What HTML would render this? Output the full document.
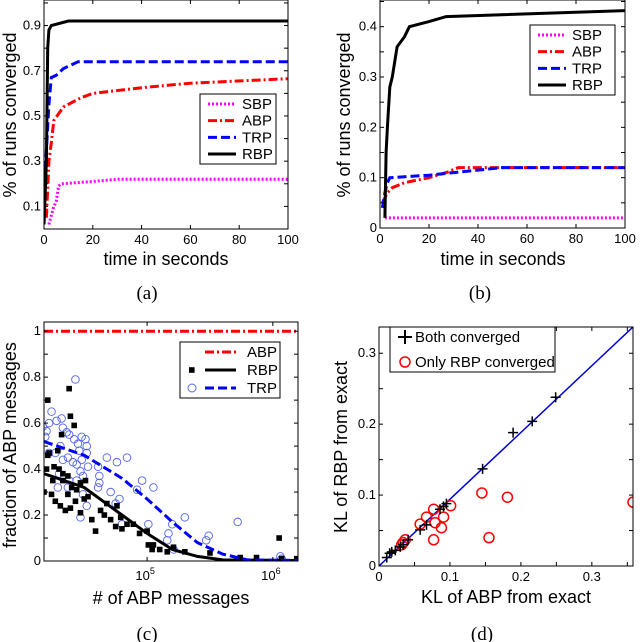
<!DOCTYPE html>
<html><head><meta charset="utf-8"><style>
html,body{margin:0;padding:0;background:#fff}
svg{display:block}
text{font-family:"Liberation Sans",sans-serif;fill:#000}
.cap{font-family:"Liberation Serif",serif;font-size:19px}
</style></head><body>
<svg id="fig" width="640" height="642" viewBox="0 0 640 642" xmlns="http://www.w3.org/2000/svg"></svg>
<script>
// ---------- data ----------
const aRBP=[[0,0.02],[1,0.3],[1.5,0.8],[2,0.88],[3,0.9],[10,0.92],[100,0.92]];
const aTRP=[[0,0.03],[1,0.35],[2,0.55],[3,0.67],[5,0.68],[8,0.71],[14,0.74],[100,0.74]];
const aABP=[[1,0.05],[2,0.3],[3,0.38],[4,0.48],[6,0.51],[8,0.54],[15,0.58],[20,0.6],[40,0.625],[60,0.645],[100,0.665]];
const aSBP=[[2,0.02],[3,0.06],[4,0.1],[5,0.12],[6,0.19],[7,0.2],[20,0.21],[30,0.22],[100,0.22]];
const bRBP=[[2,0.02],[2.5,0.15],[3,0.2],[4,0.28],[5,0.3],[7,0.36],[10,0.38],[12,0.4],[20,0.41],[27,0.42],[100,0.432]];
const bABP=[[1,0.05],[2,0.06],[3,0.07],[5,0.08],[10,0.09],[20,0.1],[27,0.11],[32,0.12],[100,0.12]];
const bTRP=[[1,0.04],[2,0.07],[3,0.09],[4,0.1],[20,0.105],[30,0.11],[50,0.12],[100,0.12]];
const bSBP=[[2,0.02],[100,0.02]];
const cABP=[[4.18,1],[6.2,1]];
const cRBPfit=[[4.18,0.38],[4.5,0.32],[4.8,0.2],[5,0.12],[5.2,0.05],[5.4,0.02],[5.6,0.005],[6.2,0.002]];
const cTRPfit=[[4.18,0.52],[4.5,0.46],[4.8,0.36],[5,0.27],[5.2,0.17],[5.4,0.08],[5.6,0.03],[5.8,0.005],[6.2,0.002]];
const cRBPpts=[[4.18,.30],[4.21,.46],[4.22,.47],[4.21,.70],[4.38,.75],[4.39,.63],[4.42,.59],[4.32,.55],[4.29,.48],[4.24,.29],[4.26,.41],[4.30,.40],[4.33,.38],[4.37,.37],[4.27,.26],[4.31,.24],[4.35,.22],[4.39,.23],[4.43,.26],[4.44,.31],[4.47,.34],[4.51,.35],[4.50,.27],[4.53,.28],[4.47,.21],[4.56,.18],[4.59,.13],[4.63,.22],[4.66,.20],[4.68,.25],[4.71,.18],[4.75,.15],[4.76,.24],[4.79,.19],[4.80,.14],[4.84,.16],[4.89,.16],[4.94,.12],[5.0,.13],[5.01,.07],[5.04,.05],[5.05,.07],[5.10,.05],[5.16,.04],[5.21,.06],[5.30,.04],[5.50,.035],[5.74,.015],[5.87,.015],[6.05,.10],[6.07,.01],[6.19,.01],[4.20,.40],[4.25,.35],[4.33,.35],[4.37,.29],[4.40,.32]];
const cTRPpts=[[4.17,.585],[4.19,.54],[4.20,.565],[4.22,.60],[4.24,.65],[4.28,.61],[4.32,.62],[4.33,.58],[4.36,.56],[4.38,.55],[4.43,.79],[4.42,.53],[4.45,.51],[4.48,.54],[4.51,.53],[4.52,.50],[4.46,.48],[4.31,.50],[4.27,.47],[4.22,.47],[4.33,.44],[4.37,.45],[4.41,.43],[4.44,.42],[4.48,.44],[4.52,.47],[4.53,.41],[4.47,.39],[4.49,.37],[4.44,.35],[4.37,.32],[4.38,.35],[4.30,.38],[4.29,.32],[4.47,.19],[4.49,.29],[4.52,.24],[4.61,.41],[4.62,.37],[4.62,.34],[4.61,.32],[4.68,.45],[4.76,.43],[4.84,.45],[4.71,.30],[4.75,.25],[4.78,.27],[4.80,.16],[4.92,.31],[4.96,.35],[5.01,.16],[5.05,.32],[5.16,.09],[5.17,.12],[5.20,.16],[5.21,.05],[5.30,.19],[5.47,.09],[5.49,.11],[5.72,.17],[6.06,.02],[6.07,.01]];
const dBoth=[[.011,.012],[.015,.018],[.018,.020],[.023,.022],[.030,.027],[.034,.030],[.041,.037],[.058,.051],[.067,.058],[.086,.080],[.091,.084],[.095,.088],[.146,.137],[.189,.188],[.216,.204],[.249,.238]];
const dOnly=[[.034,.033],[.032,.030],[.037,.037],[.058,.059],[.067,.069],[.077,.080],[.079,.061],[.077,.037],[.088,.054],[.091,.069],[.101,.085],[.145,.103],[.155,.040],[.181,.097],[.358,.090]];

// ---------- helpers ----------
const NS="http://www.w3.org/2000/svg";
const fig=document.getElementById('fig');
function mk(tag,attrs,parent){const e=document.createElementNS(NS,tag);for(const k in attrs)e.setAttribute(k,attrs[k]);(parent||fig).appendChild(e);return e;}
function axis(L,R,T,B,x0,x1,y0,y1){return {L,R,T,B,sx:v=>L+(v-x0)/(x1-x0)*(R-L),sy:v=>B-(v-y0)/(y1-y0)*(B-T)};}
function frame(ax,xt,xl,yt,yl,g){
  mk('rect',{x:ax.L,y:ax.T,width:ax.R-ax.L,height:ax.B-ax.T,fill:'none',stroke:'#000','stroke-width':1},g);
  xt.forEach(v=>{const x=ax.sx(v);mk('line',{x1:x,x2:x,y1:ax.B,y2:ax.B-4,stroke:'#000'},g);mk('line',{x1:x,x2:x,y1:ax.T,y2:ax.T+4,stroke:'#000'},g);});
  yt.forEach(v=>{const y=ax.sy(v);mk('line',{x1:ax.L,x2:ax.L+4,y1:y,y2:y,stroke:'#000'},g);mk('line',{x1:ax.R,x2:ax.R-4,y1:y,y2:y,stroke:'#000'},g);});
  xl.forEach(([v,s])=>{const t=mk('text',{x:ax.sx(v),y:ax.B+15,'text-anchor':'middle','font-size':13},g);t.textContent=s;});
  yl.forEach(([v,s])=>{const t=mk('text',{x:ax.L-3,y:ax.sy(v)+4,'text-anchor':'end','font-size':13},g);t.textContent=s;});
}
function path(ax,data,style,g){return mk('path',Object.assign({d:data.map((p,i)=>(i?'L':'M')+ax.sx(p[0]).toFixed(1)+','+ax.sy(p[1]).toFixed(1)).join(''),fill:'none'},style),g);}
const ST={SBP:{stroke:'#ff00ff','stroke-width':3,'stroke-dasharray':'2 2'},ABP:{stroke:'#ff0000','stroke-width':3,'stroke-dasharray':'9 3 2 3'},TRP:{stroke:'#0000ff','stroke-width':3,'stroke-dasharray':'9 4'},RBP:{stroke:'#000','stroke-width':3}};
function title(x,y,s,rot,g){const t=mk('text',{x,y,'text-anchor':'middle','font-size':18,transform:rot?`rotate(-90 ${x} ${y})`:''},g);t.textContent=s;return t;}
function cap(x,y,s){const t=mk('text',{x,y,'text-anchor':'middle',class:'cap'});t.textContent=s;}
function legend(g,x,y,w,h,items){
  mk('rect',{x,y,width:w,height:h,fill:'#fff',stroke:'#000'},g);
  items.forEach((it,i)=>{const yy=y+10+i*(h-20)/(items.length-1);
    const lg=mk('g',{},g);
    
    
    if(it.style)mk('line',Object.assign({x1:x+8,x2:x+36,y1:yy,y2:yy},it.style),lg);
    if(it.marker)it.marker(lg,yy);
    const t=mk('text',{x:x+it.tx,y:yy+5,'font-size':15},lg);t.textContent=it.label;});
}
const clipN=(id,ax)=>{const c=mk('clipPath',{id});mk('rect',{x:ax.L,y:ax.T,width:ax.R-ax.L,height:ax.B-ax.T},c);};

// ---------- panel a ----------
{const g=mk('g',{});
const ax=axis(44,288,0,229,0,100,0,1.013);
clipN('ca',ax);
const s=mk('g',{'clip-path':'url(#ca)'},g);
[['SBP',aSBP],['ABP',aABP],['TRP',aTRP],['RBP',aRBP]].forEach(([n,d])=>{const p=path(ax,d,ST[n],s);});
frame(ax,[0,20,40,60,80,100],[[0,'0'],[20,'20'],[40,'40'],[60,'60'],[80,'80'],[100,'100']],[0.1,0.2,0.3,0.4,0.5,0.6,0.7,0.8,0.9,1],[[0.1,'0.1'],[0.3,'0.3'],[0.5,'0.5'],[0.7,'0.7'],[0.9,'0.9']],g);
legend(g,200,94,76,70,['SBP','ABP','TRP','RBP'].map(n=>({name:n,label:n,style:ST[n],tx:42})));
title(166,265,'time in seconds',false,g);title(16,115,'% of runs converged',true,g);}
cap(147,299,'(a)');

// ---------- panel b ----------
{const g=mk('g',{});
const ax=axis(380,625,0,228,0,100,0,0.453);
clipN('cb',ax);
const s=mk('g',{'clip-path':'url(#cb)'},g);
[['SBP',bSBP],['ABP',bABP],['TRP',bTRP],['RBP',bRBP]].forEach(([n,d])=>{const p=path(ax,d,ST[n],s);});
frame(ax,[0,20,40,60,80,100],[[0,'0'],[20,'20'],[40,'40'],[60,'60'],[80,'80'],[100,'100']],[0.05,0.1,0.15,0.2,0.25,0.3,0.35,0.4,0.45],[[0,'0'],[0.1,'0.1'],[0.2,'0.2'],[0.3,'0.3'],[0.4,'0.4']],g);
legend(g,530,25,85,70,['SBP','ABP','TRP','RBP'].map(n=>({name:n,label:n,style:ST[n],tx:42})));
title(503,265,'time in seconds',false,g);title(350,115,'% of runs converged',true,g);}
cap(480,299,'(b)');

// ---------- panel c ----------
{const g=mk('g',{});
const ax=axis(44,298,322,561,4.18,6.2,0,1.04);
clipN('cc',ax);
const s=mk('g',{'clip-path':'url(#cc)'},g);
cTRPpts.forEach(p=>{const c=mk('circle',{cx:ax.sx(p[0]),cy:ax.sy(p[1]),r:3.8,fill:'none',stroke:'#5566ee','stroke-width':0.9},s);});
cRBPpts.forEach(p=>{const c=mk('rect',{x:ax.sx(p[0])-2.8,y:ax.sy(p[1])-2.8,width:5.6,height:5.6,fill:'#000'},s);});
let p=path(ax,cABP,ST.ABP,s);
p=path(ax,cRBPfit,ST.RBP,s);
p=path(ax,cTRPfit,ST.TRP,s);
frame(ax,[5,6],[],[0,0.1,0.2,0.3,0.4,0.5,0.6,0.7,0.8,0.9,1],[[0,'0'],[0.2,'0.2'],[0.4,'0.4'],[0.6,'0.6'],[0.8,'0.8'],[1,'1']],g);
[[5,'5'],[6,'6']].forEach(([v,e])=>{const t=mk('text',{x:ax.sx(v)-2,y:ax.B+19,'text-anchor':'middle','font-size':13},g);t.textContent='10';const su=mk('tspan',{'font-size':9,dy:-6},t);su.textContent=e;});
legend(g,180,342,100,56,[
 {name:'abp',label:'ABP',tx:67,marker:(lg,yy)=>mk('line',{x1:205,x2:236,y1:yy,y2:yy,stroke:'#ff0000','stroke-width':3,'stroke-dasharray':'9 3 2 3'},lg)},
 {name:'rbp',label:'RBP',tx:67,marker:(lg,yy)=>{mk('rect',{x:189,y:yy-2.8,width:5.6,height:5.6,fill:'#000'},lg);mk('line',{x1:205,x2:236,y1:yy,y2:yy,stroke:'#000','stroke-width':3},lg);}},
 {name:'trp',label:'TRP',tx:67,marker:(lg,yy)=>{mk('circle',{cx:192,cy:yy,r:4,fill:'none',stroke:'#5566ee'},lg);mk('line',{x1:205,x2:236,y1:yy,y2:yy,stroke:'#0000ff','stroke-width':3,'stroke-dasharray':'9 4'},lg);}}
]);
title(171,604,'# of ABP messages',false,g);title(16,445,'fraction of ABP messages',true,g);}
cap(147,640,'(c)');

// ---------- panel d ----------
{const g=mk('g',{});
const ax=axis(379,633,327,566,0,0.358,0,0.337);
clipN('cd',ax);
const s=mk('g',{'clip-path':'url(#cd)'},g);
const dl=mk('line',{x1:ax.sx(0),y1:ax.sy(0),x2:ax.sx(0.358),y2:ax.sy(0.337),stroke:'#0000dd','stroke-width':1.5},s);
dOnly.forEach(p=>{const c=mk('circle',{cx:ax.sx(p[0]),cy:ax.sy(p[1]),r:5,fill:'none',stroke:'#ff0000','stroke-width':1.5},s);});
dBoth.forEach(p=>{const x=ax.sx(p[0]),y=ax.sy(p[1]);const c=mk('path',{d:`M${x-5},${y}H${x+5}M${x},${y-5}V${y+5}`,stroke:'#000','stroke-width':1.5},s);});
frame(ax,[0.05,0.1,0.15,0.2,0.25,0.3,0.35],[[0,'0'],[0.1,'0.1'],[0.2,'0.2'],[0.3,'0.3']],[0.05,0.1,0.15,0.2,0.25,0.3],[[0,'0'],[0.1,'0.1'],[0.2,'0.2'],[0.3,'0.3']],g);
legend(g,390,327,165,45,[
 {name:'both',label:'Both converged',tx:25,marker:(lg,yy)=>mk('path',{d:`M398,${yy}h14M405,${yy-7}v14`,stroke:'#000','stroke-width':2},lg)},
 {name:'only-rbp',label:'Only RBP converged',tx:25,marker:(lg,yy)=>mk('circle',{cx:405,cy:yy,r:5,fill:'none',stroke:'#ff0000','stroke-width':1.5},lg)}]);
title(506,603,'KL of ABP from exact',false,g);title(347,447,'KL of RBP from exact',true,g);}
cap(482,640,'(d)');
</script>
</body></html>
